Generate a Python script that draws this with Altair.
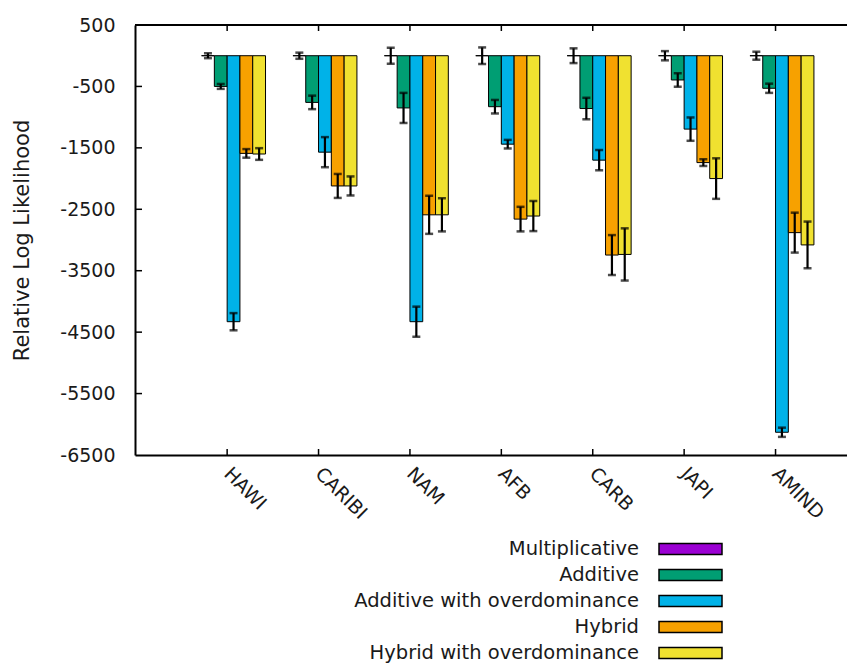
import altair as alt
import pandas as pd

groups = ["HAWI", "CARIBI", "NAM", "AFB", "CARB", "JAPI", "AMIND"]
series = ["Multiplicative", "Additive", "Additive with overdominance",
          "Hybrid", "Hybrid with overdominance"]
colors = ["#9B00D3", "#009E73", "#00B2E8", "#F7A100", "#F0E130"]

mult = [0, 0, 0, 0, 0, 0, 0]
mult_err = [40, 50, 130, 135, 120, 75, 65]
add = [-500, -760, -850, -830, -860, -395, -530]
add_err = [40, 110, 245, 110, 175, 110, 75]
addod = [-4330, -1570, -4330, -1440, -1700, -1195, -6130]
addod_err = [140, 245, 245, 70, 165, 190, 75]
hyb = [-1590, -2120, -2590, -2660, -3245, -1740, -2880]
hyb_err = [70, 195, 310, 200, 325, 55, 325]
hybod = [-1600, -2120, -2590, -2610, -3235, -2000, -3080]
hybod_err = [95, 155, 270, 245, 425, 330, 380]

y_labels = [500, -500, -1500, -2500, -3500, -4500, -5500, -6500]
y_inner_ticks = [-500, -1500, -2500, -3500, -4500, -5500]

rows = []
for s, vals, errs in zip(series, [mult, add, addod, hyb, hybod],
                         [mult_err, add_err, addod_err, hyb_err, hybod_err]):
    for g, v, e in zip(groups, vals, errs):
        rows.append(dict(group=g, series=s, value=v, lo=v - e, hi=v + e))
df = pd.DataFrame(rows)

W, H = 712, 430
FONT = "DejaVu Sans"
TXT = "#1a1a1a"

x_scale = alt.Scale(domain=groups, paddingInner=0.3, paddingOuter=0.545, align=0.668)
x_axis = alt.Axis(title=None, labelAngle=45, labelAlign="left", labelBaseline="top",
                  labelPadding=9, ticks=False, tickSize=0, domain=True, domainColor="black",
                  domainWidth=2, bandPosition=0.4, labelFont=FONT, labelFontSize=19,
                  labelColor=TXT, grid=False)
y_scale = alt.Scale(domain=[-6500, 500], nice=False, zero=False)
y_axis = alt.Axis(title="Relative Log Likelihood", values=y_labels, labelExpr="datum.value + ''",
                  ticks=False, tickSize=0, labelPadding=20, labelFlush=False, labelOverlap=False,
                  domain=True, domainColor="black", domainWidth=2, grid=False,
                  labelFont=FONT, labelFontSize=19, labelColor=TXT,
                  titleFont=FONT, titleFontSize=21, titleFontWeight="normal", titleColor=TXT,
                  titleAngle=270, titleX=-113, titleY=H / 2, titleAlign="center",
                  titleBaseline="middle")

x_enc = alt.X("group:N", sort=groups, scale=x_scale, axis=x_axis)
xoff = alt.XOffset("series:N", sort=series,
                   scale=alt.Scale(domain=series, paddingInner=0, paddingOuter=0))
color_scale = alt.Scale(domain=series, range=colors)

base = alt.Chart(df)
bars = base.mark_bar(stroke="black", strokeWidth=1).encode(
    x=x_enc, xOffset=xoff,
    y=alt.Y("value:Q", scale=y_scale, axis=y_axis),
    color=alt.Color("series:N", scale=color_scale, legend=None),
)
err = base.mark_rule(color="black", strokeWidth=2.2).encode(
    x=x_enc, xOffset=xoff,
    y=alt.Y("lo:Q", scale=y_scale, axis=y_axis), y2="hi:Q",
)
cap_lo = base.mark_tick(color="black", thickness=2.5, size=8, orient="horizontal").encode(
    x=x_enc, xOffset=xoff, y=alt.Y("lo:Q", scale=y_scale, axis=y_axis))
cap_hi = base.mark_tick(color="black", thickness=2.5, size=8, orient="horizontal").encode(
    x=x_enc, xOffset=xoff, y=alt.Y("hi:Q", scale=y_scale, axis=y_axis))

ytick = alt.Chart(pd.DataFrame({"v": y_inner_ticks})).mark_rule(color="black", strokeWidth=1.5).encode(
    y=alt.Y("v:Q", scale=y_scale, axis=y_axis), x=alt.value(0), x2=alt.value(7))
gdf = pd.DataFrame({"group": groups})
x_tick_enc = alt.X("group:N", sort=groups, scale=x_scale, axis=x_axis, bandPosition=0.4)
xtick_b = alt.Chart(gdf).mark_rule(color="black", strokeWidth=1.5).encode(
    x=x_tick_enc, y=alt.value(H), y2=alt.value(H - 6))
xtick_t = alt.Chart(gdf).mark_rule(color="black", strokeWidth=1.5).encode(
    x=x_tick_enc, y=alt.value(0), y2=alt.value(6))
top_line = alt.Chart(pd.DataFrame({"a": [0]})).mark_rule(color="black", strokeWidth=2).encode(
    x=alt.value(0), x2=alt.value(W), y=alt.value(0))

main = alt.layer(bars, err, cap_lo, cap_hi, ytick, xtick_b, xtick_t, top_line)

leg_df = pd.DataFrame({"series": series})
leg_y = alt.Y("series:N", sort=series,
              scale=alt.Scale(type="band", domain=series, range=[511, 641],
                              paddingInner=0.57, paddingOuter=0.285),
              axis=None)
leg_rect = alt.Chart(leg_df).mark_rect(stroke="black", strokeWidth=1.5).encode(
    y=leg_y, x=alt.value(524), x2=alt.value(587),
    color=alt.Color("series:N", scale=color_scale, legend=None))
leg_text = alt.Chart(leg_df).mark_text(align="right", baseline="middle", font=FONT,
                                        fontSize=19.5, color=TXT).encode(
    y=leg_y, x=alt.value(504), text="series:N")
legend = alt.layer(leg_rect, leg_text)

chart = alt.layer(main, legend).resolve_scale(y="independent").properties(
    width=W, height=H,
    autosize=alt.AutoSizeParams(type="none"),
    padding={"left": 127, "top": 17, "right": 0, "bottom": 212},
    background="white",
).configure_view(stroke=None)

chart.save("out.html", embed_options={"renderer": "svg", "actions": False})
